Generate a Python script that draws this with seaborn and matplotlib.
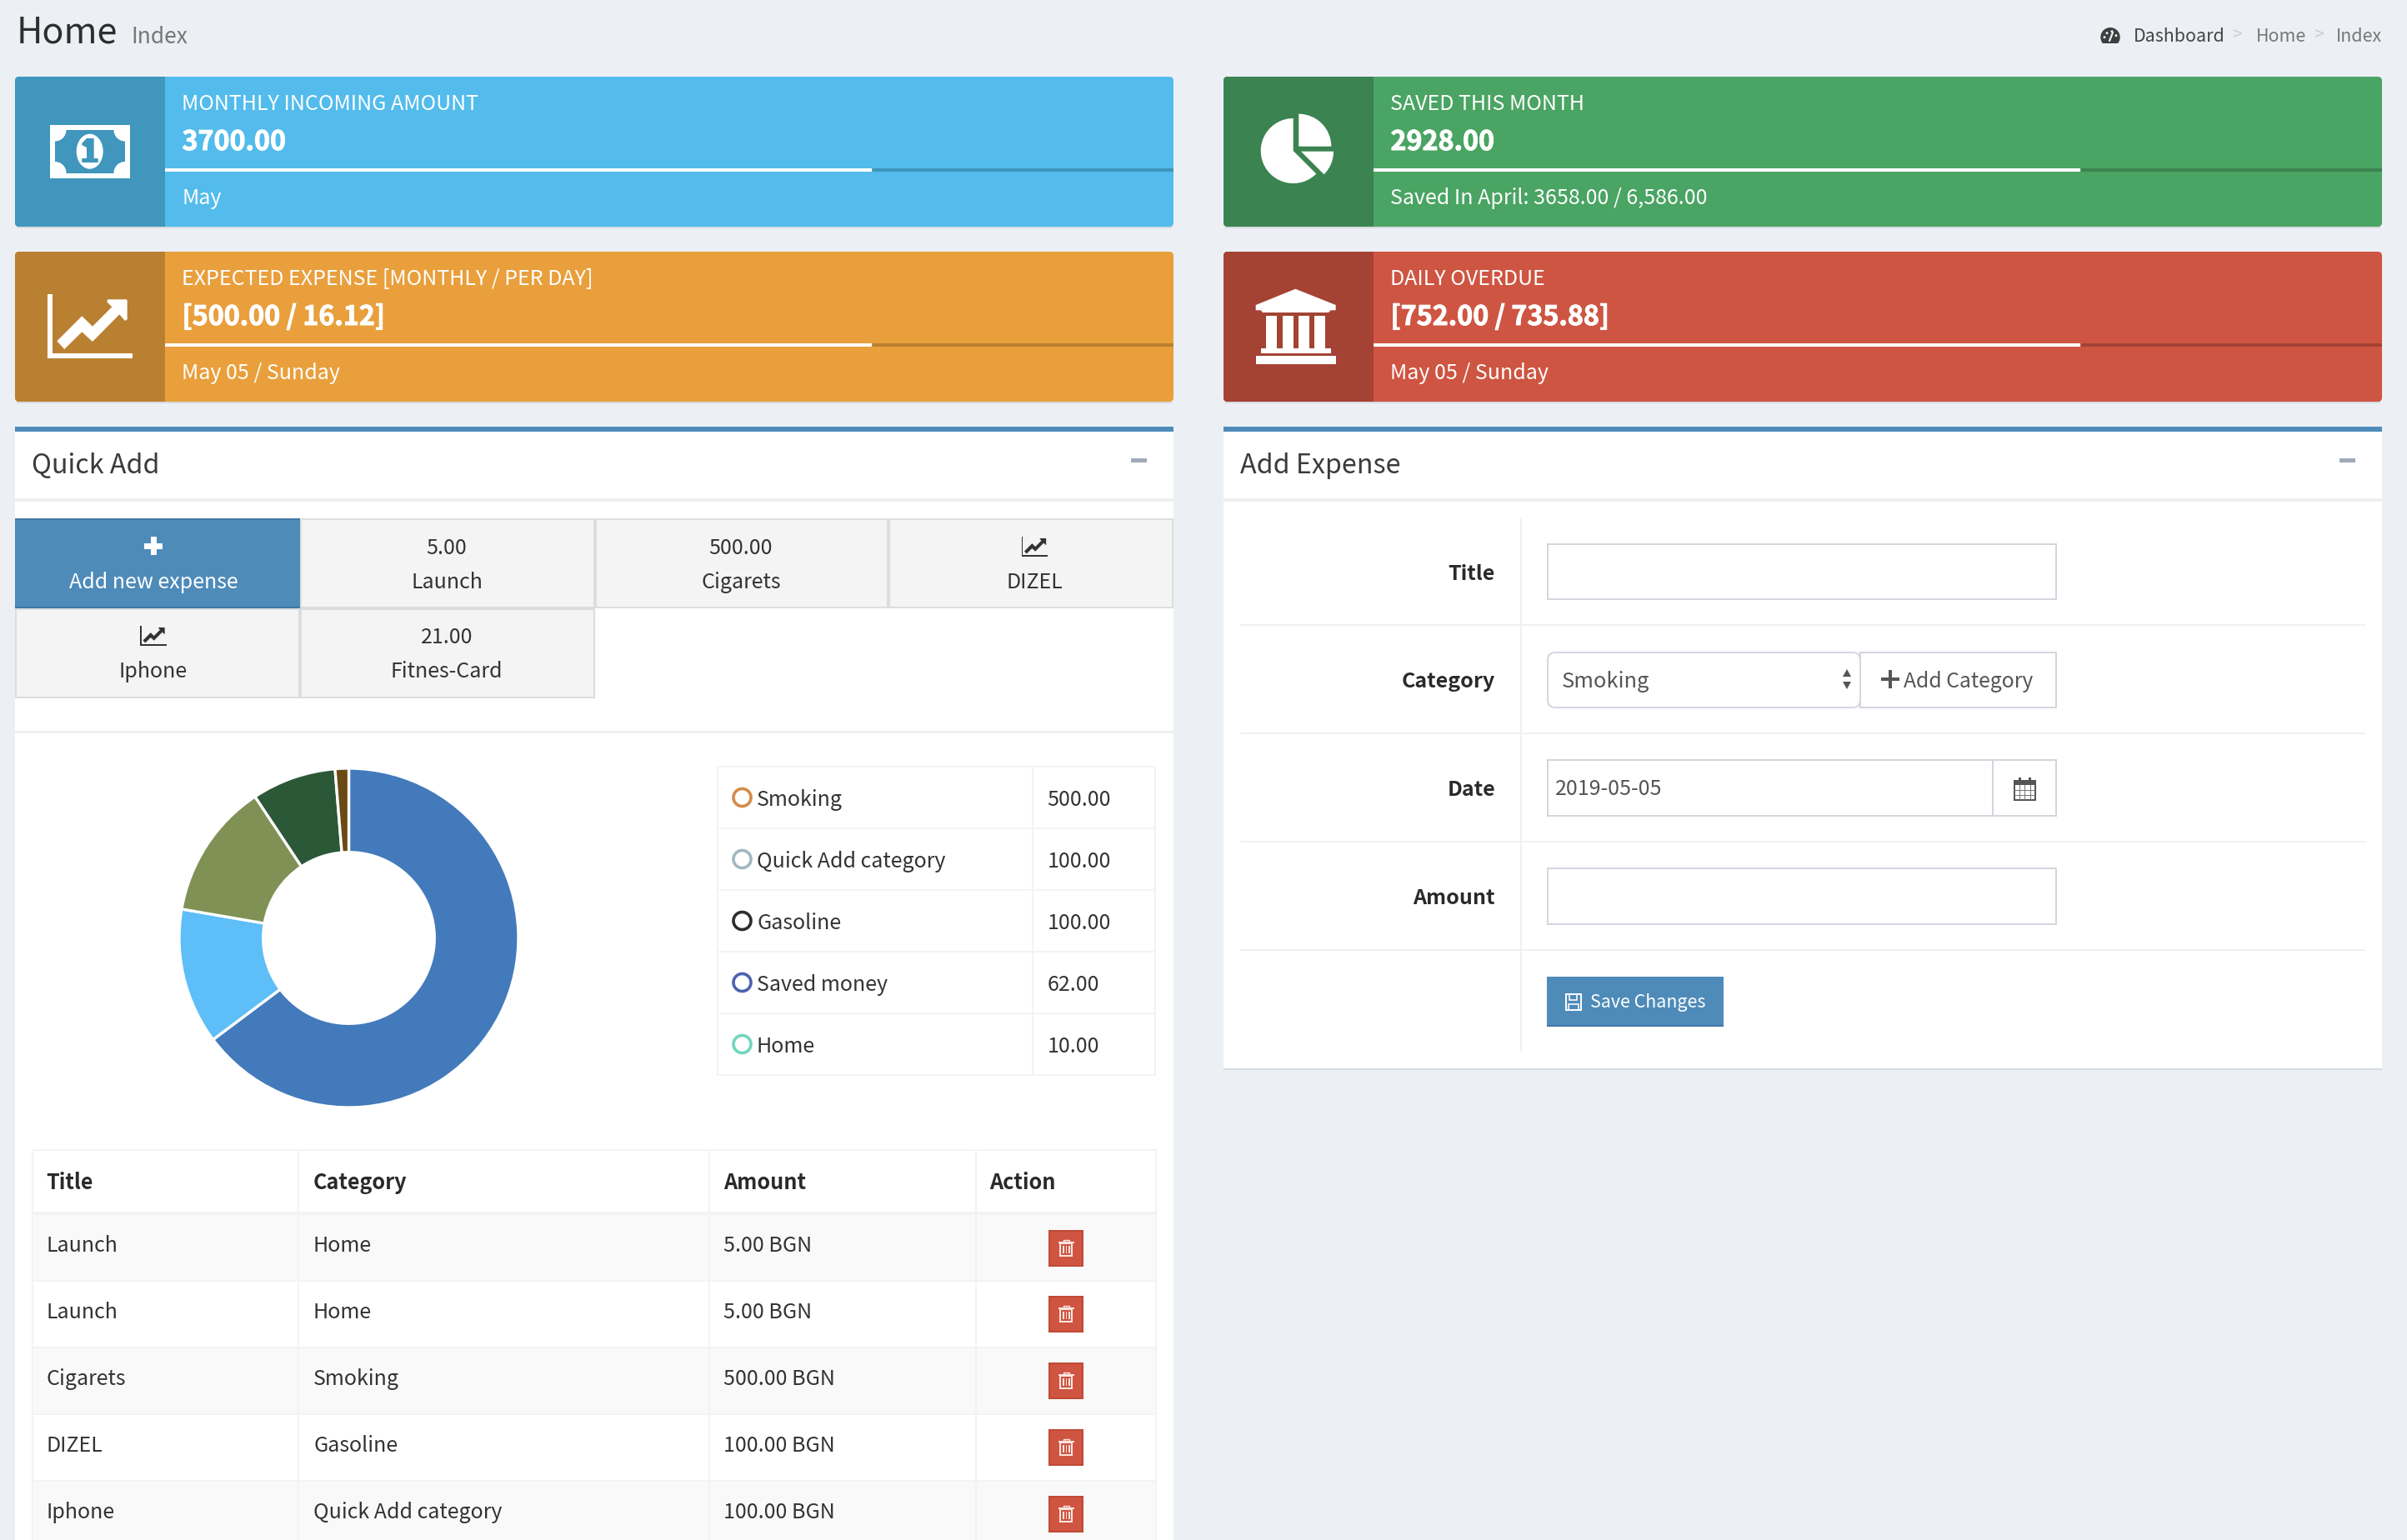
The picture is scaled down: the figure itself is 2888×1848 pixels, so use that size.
"""Expense dashboard screenshot: cards, quick add panel, donut and form, in seaborn/matplotlib."""

import matplotlib
matplotlib.use("Agg")
import matplotlib.patheffects as pe
import matplotlib.pyplot as plt
import pandas as pd
import seaborn as sns
from matplotlib.patches import Circle, Ellipse, FancyBboxPatch, Polygon, Rectangle, Wedge

W, H = 2888, 1848

# Card content
card_titles = ["MONTHLY INCOMING AMOUNT", "SAVED THIS MONTH", "EXPECTED EXPENSE [MONTHLY / PER DAY]", "DAILY OVERDUE"]
card_values = ["3700.00", "2928.00", "[500.00 / 16.12]", "[752.00 / 735.88]"]
card_notes = ["May", "Saved In April: 3658.00 / 6,586.00", "May 05 / Sunday", "May 05 / Sunday"]
card_progress = [70, 70, 70, 70]
card_colors = ["#53BCEC", "#4AA463", "#E99F3C", "#CE5542"]
icon_colors = ["#4096BC", "#3B8350", "#BA8031", "#A44234"]

# Quick add buttons
button_top = ["", "5.00", "500.00", "", "", "21.00"]
button_bottom = ["Add new expense", "Launch", "Cigarets", "DIZEL", "Iphone", "Fitnes-Card"]

# Donut and its legend table
category_names = ["Smoking", "Quick Add category", "Gasoline", "Saved money", "Home"]
category_amounts = [500.00, 100.00, 100.00, 62.00, 10.00]
donut_colors = ["#437ABB", "#5DBEF8", "#7F9155", "#2B5837", "#6B4B14"]
ring_colors = ["#D58B48", "#A2B8C0", "#2B2F2B", "#4C63B0", "#72D5BE"]

# Expense table
table_headers = ["Title", "Category", "Amount", "Action"]
table_titles = ["Launch", "Launch", "Cigarets", "DIZEL", "Iphone"]
table_categories = ["Home", "Home", "Smoking", "Gasoline", "Quick Add category"]
table_amounts = ["5.00 BGN", "5.00 BGN", "500.00 BGN", "100.00 BGN", "100.00 BGN"]

# Form
form_labels = ["Title", "Category", "Date", "Amount"]

BG = "#ECF0F5"
TEXT = "#333333"
PANEL_BLUE = "#4E8BB9"
LINE = "#F0F0F0"

sns.set_theme(style="white")
plt.rcParams["font.family"] = ["Noto Sans CJK SC", "DejaVu Sans"]

fig = plt.figure(figsize=(W / 100, H / 100), dpi=100, facecolor=BG)
ax = fig.add_axes([0, 0, 1, 1])
ax.set_xlim(0, W)
ax.set_ylim(H, 0)
ax.axis("off")


def box(x0, y0, x1, y1, color, z=1):
    ax.add_patch(Rectangle((x0, y0), x1 - x0, y1 - y0, facecolor=color, edgecolor="none", linewidth=0, zorder=z))


def frame(x0, y0, x1, y1, color, px=2, z=2):
    ax.add_patch(Rectangle((x0, y0), x1 - x0, y1 - y0, facecolor="none", edgecolor=color, linewidth=px * 0.72, zorder=z))


def rounded(x0, y0, x1, y1, color, r=5, z=1, edge="none", px=0):
    ax.add_patch(FancyBboxPatch((x0, y0), x1 - x0, y1 - y0, boxstyle=f"round,pad=0,rounding_size={r}",
                                facecolor=color, edgecolor=edge, linewidth=px * 0.72, zorder=z))


def shape(pts, color, z=4):
    ax.add_patch(Polygon(pts, closed=True, facecolor=color, edgecolor="none", linewidth=0, zorder=z))


def label(x, y, s, size=18.0, color=TEXT, weight="normal", ha="left", stroke=0):
    t = ax.text(x, y, s, fontsize=size, color=color, fontweight=weight, ha=ha, va="baseline", zorder=6)
    if stroke:
        t.set_path_effects([pe.withStroke(linewidth=stroke, foreground=color)])


def chart_icon(x, y, k, color):
    # outline taken from the big card icon, k scales it down for the buttons
    box(x, y, x + 6 * k, y + 77 * k, color, z=5)
    box(x, y + 71 * k, x + 102 * k, y + 77 * k, color, z=5)
    arrow = [(11.3, 56.3), (41.3, 26.3), (54, 38.7), (77.3, 15.3), (71.3, 9.3), (72.3, 6.3), (94.7, 6.3),
             (95.7, 7.7), (95.7, 30.3), (93, 32), (86.3, 24.3), (54, 57), (41.3, 45.3), (20.3, 66)]
    shape([(x + a * k, y + b * k) for a, b in arrow], color, z=5)


def money_icon(color):
    plate = Rectangle((59.5, 149.5), 96.5, 64, facecolor="white", edgecolor="none", zorder=4)
    ax.add_patch(plate)
    box(66, 156, 150, 207.5, color, z=4)
    for cx, cy in [(66, 156), (150, 156), (66, 207.5), (150, 207.5)]:
        corner = Circle((cx, cy), 13.5, facecolor="white", edgecolor="none", zorder=4)
        ax.add_patch(corner)
        corner.set_clip_path(plate)
    ax.add_patch(Ellipse((107.7, 181.7), 32, 42, facecolor="white", edgecolor="none", zorder=5))
    # the "1" on the bill
    shape([(104, 166), (112.7, 166), (112.7, 190), (117.7, 190), (117.7, 195), (98.3, 195), (98.3, 190),
           (104, 190), (104, 177), (98.3, 174), (98.3, 172)], color, z=6)


def pie_icon():
    ax.add_patch(Wedge((1551.7, 181), 39, 45, 270, facecolor="white", edgecolor="none", zorder=4))
    ax.add_patch(Wedge((1558.3, 175.7), 39, 270, 360, facecolor="white", edgecolor="none", zorder=4))
    ax.add_patch(Wedge((1561, 181.7), 39, 0, 45, facecolor="white", edgecolor="none", zorder=4))


def bank_icon():
    shape([(1554.3, 346.7), (1602.7, 366), (1602.7, 372.3), (1596.7, 372.3), (1594, 375), (1515, 375),
           (1512.7, 372.3), (1506.7, 372.3), (1506.7, 366)], "white")
    for xa in [1519.3, 1538.7, 1558, 1577.3]:
        box(xa, 379, xa + 13, 418, "white", z=4)
    box(1513.3, 417.7, 1596.7, 424, "white", z=4)
    box(1506.7, 427.3, 1602.7, 436.7, "white", z=4)


def gauge_icon():
    ax.add_patch(Circle((2532, 44.7), 11.7, facecolor="#3F3F3F", edgecolor="none", zorder=4))
    box(2518, 51.7, 2546, 58, BG, z=4)
    for dx, dy in [(-7, 0), (-4, -5), (2, -7), (7, -2)]:
        ax.add_patch(Circle((2532 + dx, 44.7 + dy), 1.5, facecolor=BG, edgecolor="none", zorder=5))
    ax.plot([2531, 2535], [49, 39], color=BG, linewidth=1.6, zorder=5)


box_pos = [(18, 92), (1468, 92), (18, 302), (1468, 302)]
for i, (x0, y0) in enumerate(box_pos):
    x1, y1 = x0 + 1390, y0 + 180
    box(x0 + 2, y0 + 6, x1 - 2, y1 + 2, "#D7DBE0", z=0)
    rounded(x0, y0, x1, y1, card_colors[i])
    rounded(x0, y0, x0 + 100, y1, icon_colors[i], z=2)
    box(x0 + 50, y0, x0 + 180, y1, icon_colors[i], z=2)
    label(x0 + 200.5, y0 + 40, card_titles[i], color="white")
    label(x0 + 200.5, y0 + 88, card_values[i], size=23.2, color="white", weight="bold", stroke=0.7)
    label(x0 + 200.5, y0 + 153, card_notes[i], color="white")

    # progress bar through seaborn, one bar on a 0-100 scale
    bar_ax = fig.add_axes([(x0 + 180) / W, 1 - (y0 + 114) / H, (x1 - x0 - 180) / W, 4 / H])
    bar_ax.set_facecolor(icon_colors[i])
    bar_df = pd.DataFrame({"card": [card_titles[i]], "pct": [card_progress[i]]})
    sns.barplot(data=bar_df, x="pct", y="card", color="white", saturation=1, width=1, ax=bar_ax)
    bar_ax.set_xlim(0, 100)
    bar_ax.set_ylim(0.5, -0.5)
    bar_ax.set(xlabel="", ylabel="", xticks=[], yticks=[])
    sns.despine(ax=bar_ax, left=True, bottom=True)

money_icon(icon_colors[0])
pie_icon()
chart_icon(57, 353, 1, "white")
bank_icon()

# page header
label(20, 52, "Home", size=31, color="#2E2E2E")
label(157, 52, "Index", size=19, color="#777777")
gauge_icon()
label(2560, 50, "Dashboard", size=15.4, color="#444444")
label(2684, 48, ">", size=15.4, color="#CCCCCC", ha="center")
label(2706.7, 50, "Home", size=15.4, color="#777777")
label(2781.7, 48, ">", size=15.4, color="#CCCCCC", ha="center")
label(2803, 50, "Index", size=15.4, color="#777777")

# panels
for x0, y1, title in [(18, H + 5, "Quick Add"), (1468, 1282, "Add Expense")]:
    if y1 < H:
        box(x0, y1, x0 + 1390, y1 + 2, "#D7DBE0", z=0)
    box(x0, 512, x0 + 1390, y1, "white")
    box(x0, 512, x0 + 1390, 518, PANEL_BLUE, z=2)
    box(x0, 598, x0 + 1390, 602, LINE, z=2)
    label(x0 + 20.5, 568, title, size=23.2, color="#3B3B3B")
    box(x0 + 1339, 550, x0 + 1358, 555, "#A0AABA", z=2)

# quick add buttons
cols = [(18, 360), (360, 714), (714, 1066), (1066, 1408), (18, 360), (360, 714)]
rows = [(622, 730)] * 4 + [(730, 838)] * 2
centers = [184, 536, 889, 1241.5, 184, 536]
for i, name in enumerate(button_bottom):
    xa, xb = cols[i]
    ya, yb = rows[i]
    cx = centers[i]
    if i == 0:
        box(xa, ya, xb, yb, PANEL_BLUE, z=2)
        box(xa, ya, xb, ya + 2, "#3F78A8", z=3)
        box(xa, yb - 2, xb, yb, "#3F78A8", z=3)
        box(cx - 3.5, 644, cx + 3.5, 666, "white", z=3)
        box(cx - 11, 651.5, cx + 11, 658.5, "white", z=3)
    else:
        box(xa, ya, xb, yb, "#F4F4F4", z=2)
        frame(xa + 1, ya + 1, xb - 1, yb - 1, "#DDDDDD", px=2, z=3)
    base = 706 if i < 4 else 813
    if button_top[i]:
        label(cx, base - 41, button_top[i], ha="center")
    elif i > 0:
        chart_icon(cx - 16, base - 62, 0.31, "#333333")
    label(cx, base, name, ha="center", color="white" if i == 0 else TEXT)
box(18, 877, 1408, 880, LINE, z=2)

# donut, wedges from the amounts
pie_ax = fig.add_axes([215 / W, 1 - 1329 / H, 407 / W, 407 / H])
pie_ax.pie(category_amounts, colors=donut_colors, startangle=90, counterclock=False, radius=1.0,
           wedgeprops={"width": 0.495, "edgecolor": "white", "linewidth": 2.4})
pie_ax.set_xlim(-1, 1)
pie_ax.set_ylim(-1, 1)

# legend table
leg_rows = [920, 994, 1068, 1142, 1216, 1290]
for y in leg_rows:
    box(861, y - 1, 1386, y + 1, "#F3F3F3", z=2)
box(860, 920, 862, 1291, "#F3F3F3", z=2)
box(1238, 920, 1240, 1291, "#F3F3F3", z=2)
box(1385, 920, 1387, 1291, "#F3F3F3", z=2)
for i, name in enumerate(category_names):
    cy = leg_rows[i] + 37
    ax.add_patch(Circle((890.5, cy), 10.5, facecolor="none", edgecolor=ring_colors[i], linewidth=2.6, zorder=4))
    label(908, leg_rows[i] + 47, name)
    label(1256.6, leg_rows[i] + 47, f"{category_amounts[i]:.2f}")

# expense table
col_x = [39, 358, 851, 1171, 1387]
text_x = [55.5, 376, 868, 1187.5]
row_y = [1458, 1537, 1617, 1697, 1777, 1857]
for i in range(5):
    if i % 2 == 0:
        box(col_x[0], row_y[i], col_x[-1], row_y[i + 1], "#F9F9F9", z=2)
    box(col_x[0], row_y[i + 1] - 1, col_x[-1], row_y[i + 1] + 1, "#F3F3F3", z=3)
    base = row_y[i] + 44.5
    label(text_x[0], base, table_titles[i])
    label(text_x[1], base, table_categories[i])
    label(text_x[2], base, table_amounts[i])
    # delete button
    ya = row_y[i] + 18
    box(1258, ya, 1300, ya + 44, "#BF4A36", z=4)
    box(1260, ya + 2, 1298, ya + 42, "#CF5441", z=4)
    frame(1272, ya + 16, 1286, ya + 31, "#F8E4DF", px=2, z=5)
    box(1269.5, ya + 14, 1288.5, ya + 16, "#F8E4DF", z=5)
    frame(1275.5, ya + 11.5, 1283, ya + 14, "#F8E4DF", px=1.4, z=5)
    for dx in (1275.2, 1278.6, 1282):
        box(dx, ya + 18.5, dx + 1.6, ya + 28, "#F8E4DF", z=5)
box(col_x[0], 1379, col_x[-1], 1381, "#F3F3F3", z=3)
box(col_x[0], 1454, col_x[-1], 1458, "#F3F3F3", z=3)
for cx in col_x:
    box(cx - 1, 1380, cx + 1, H, "#F3F3F3", z=3)
for x, name in zip(text_x, table_headers):
    label(x, 1427, name, size=18.1, weight="bold", color="#2A2A2A")

# form
box(1824, 621, 1826, 1262, LINE, z=2)
for y in [750, 880, 1010, 1140]:
    box(1488, y - 1, 2838, y + 1, LINE, z=2)
for name, base in zip(form_labels, [696, 825, 955, 1085]):
    label(1794, base, name, weight="bold", ha="right", color="#2A2A2A")

EDGE = "#D2D6DE"
frame(1857, 653, 2467, 719, EDGE)
frame(1857, 1042, 2467, 1109, EDGE)
frame(2232, 783, 2467, 849, EDGE)
rounded(1857, 783, 2232, 849, "white", r=9, z=3, edge=EDGE, px=2)
label(1874, 825, "Smoking", size=18.3, color="#555555")
shape([(2211, 812), (2221, 812), (2216, 803)], "#555555")
shape([(2211, 818), (2221, 818), (2216, 827)], "#555555")
box(2257, 813, 2279, 817, "#555555", z=4)
box(2266, 804, 2270, 826, "#555555", z=4)
label(2284, 825, "Add Category", size=17.8, color="#555555")
frame(1857, 912, 2467, 979, EDGE)
box(2390, 912, 2392, 979, EDGE, z=3)
label(1866, 954, "2019-05-05", color="#555555")
frame(2417, 937, 2442, 960, "#555555", px=2, z=4)
box(2417, 937, 2442, 942, "#555555", z=4)
for gx in (2423, 2429, 2436):
    box(gx, 942, gx + 1, 960, "#777777", z=4)
for gy in (948, 954):
    box(2417, gy, 2442, gy + 1, "#777777", z=4)
box(2422, 933, 2425, 939, "#555555", z=4)
box(2434, 933, 2437, 939, "#555555", z=4)

box(1856, 1172, 2068, 1232, PANEL_BLUE, z=3)
box(1856, 1230, 2068, 1232, "#3F78A8", z=3)
frame(1879, 1193, 1897, 1212, "white", px=2, z=4)
frame(1883, 1193, 1892, 1200, "white", px=1.6, z=4)
frame(1882, 1205, 1894, 1212, "white", px=1.6, z=4)
label(1908, 1209, "Save Changes", size=15.4, color="white")

fig.savefig("out.png", dpi=100, facecolor=BG)
plt.close(fig)
